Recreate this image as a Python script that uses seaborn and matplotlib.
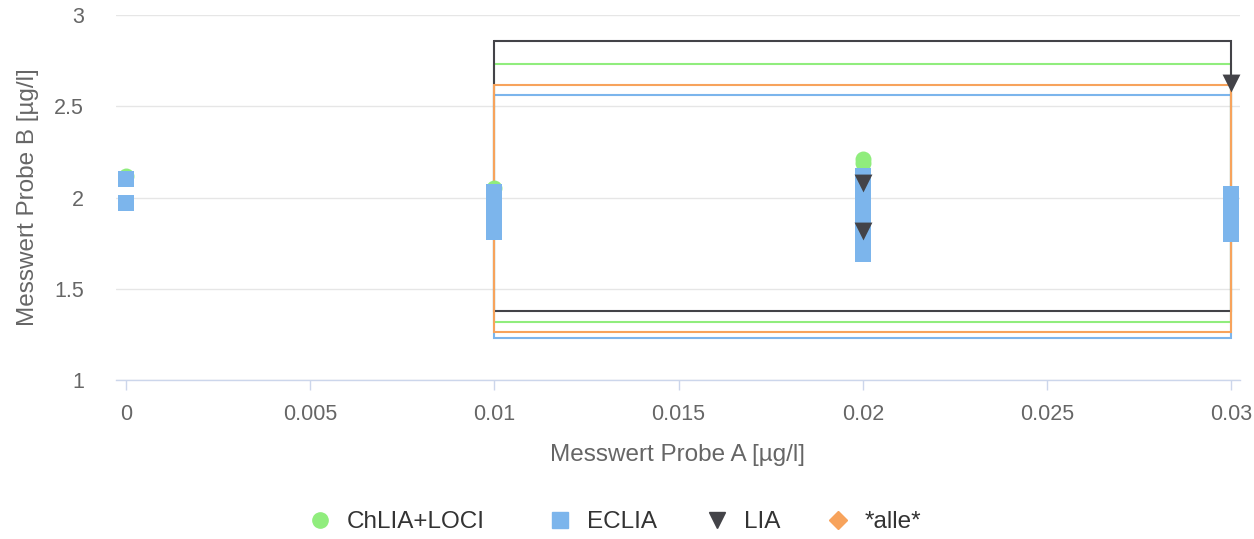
import matplotlib
matplotlib.use("Agg")
import matplotlib.pyplot as plt
import seaborn as sns
import pandas as pd
from matplotlib.lines import Line2D

sns.set_theme(style="white")
plt.rcParams['font.family'] = ['Liberation Sans', 'DejaVu Sans']

# ---- data ----
series_names = ["ChLIA+LOCI", "ECLIA", "LIA", "*alle*"]
colors = ["#90ed7d", "#7cb5ec", "#434348", "#f7a35c"]
markers = ["o", "s", "v", "D"]

x_chlia = [0.0, 0.01, 0.02, 0.02]
y_chlia = [2.12, 2.05, 2.21, 2.19]

x_eclia = [0.0, 0.0,
           0.01, 0.01, 0.01, 0.01, 0.01, 0.01,
           0.02, 0.02, 0.02, 0.02, 0.02, 0.02, 0.02, 0.02, 0.02,
           0.03, 0.03, 0.03, 0.03, 0.03]
y_eclia = [2.10, 1.97,
           2.03, 1.99, 1.95, 1.90, 1.86, 1.81,
           2.12, 2.06, 2.00, 1.95, 1.90, 1.85, 1.80, 1.75, 1.69,
           2.02, 1.97, 1.92, 1.86, 1.80]

x_lia = [0.02, 0.02, 0.03]
y_lia = [2.08, 1.815, 2.63]

x_alle = []
y_alle = []

# limit boxes: x range and lower/upper y limits per series
box_x = [0.01, 0.03]
box_lo = {"ChLIA+LOCI": 1.32, "ECLIA": 1.23, "LIA": 1.38, "*alle*": 1.265}
box_hi = {"ChLIA+LOCI": 2.73, "ECLIA": 2.56, "LIA": 2.86, "*alle*": 2.615}

x_ticks = [0, 0.005, 0.01, 0.015, 0.02, 0.025, 0.03]
x_tick_labels = ["0", "0.005", "0.01", "0.015", "0.02", "0.025", "0.03"]
y_ticks = [1, 1.5, 2, 2.5, 3]
y_tick_labels = ["1", "1.5", "2", "2.5", "3"]

# ---- figure ----
W, H = 1254, 539
fig = plt.figure(figsize=(W / 100, H / 100), dpi=100)
ax = fig.add_axes([116/W, 1 - 380/H, (1240-116)/W, (380-15)/H])

pts = {
    "ChLIA+LOCI": (x_chlia, y_chlia),
    "ECLIA": (x_eclia, y_eclia),
    "LIA": (x_lia, y_lia),
    "*alle*": (x_alle, y_alle),
}

# boxes (draw order: green, blue, black, orange)
for name in ["ChLIA+LOCI", "ECLIA", "LIA", "*alle*"]:
    c = colors[series_names.index(name)]
    lo, hi = box_lo[name], box_hi[name]
    xs = [box_x[0], box_x[1], box_x[1], box_x[0], box_x[0]]
    ys = [hi, hi, lo, lo, hi]
    ax.plot(xs, ys, color=c, lw=1.5, zorder=2, solid_joinstyle="miter")

marker_s = [132, 132, 165, 110]
for i, name in enumerate(series_names):
    xs, ys = pts[name]
    if len(xs) == 0:
        continue
    df = pd.DataFrame({"x": xs, "y": ys})
    sns.scatterplot(data=df, x="x", y="y", ax=ax, color=colors[i], marker=markers[i],
                    s=marker_s[i], linewidth=0, zorder=3 + i, legend=False)

ax.set_xlim(-0.00027, 0.03024)
ax.set_ylim(1, 3)
ax.set_xticks(x_ticks)
ax.set_xticklabels(x_tick_labels)
ax.set_yticks(y_ticks)
ax.set_yticklabels(y_tick_labels)

ax.grid(axis="y", color="#e6e6e6", lw=1)
ax.grid(axis="x", visible=False)
for s in ["top", "right", "left"]:
    ax.spines[s].set_visible(False)
ax.spines["bottom"].set_color("#ccd6eb")
ax.spines["bottom"].set_linewidth(1)
ax.spines["bottom"].set_zorder(1)

ax.tick_params(axis="x", which="both", bottom=True, length=7, width=1, color="#ccd6eb",
               labelsize=15.5, labelcolor="#666666", pad=10)
ax.tick_params(axis="y", left=False, labelsize=15.5, labelcolor="#666666", pad=17)

ax.set_xlabel("Messwert Probe A [µg/l]", fontsize=17.5, color="#666666", labelpad=14)
ax.set_ylabel("Messwert Probe B [µg/l]", fontsize=17.5, color="#666666", labelpad=11)

# legend: one entry per legend, placed at the reference's item positions
marker_x = [320, 560, 717, 838]
marker_sizes = [11, 11, 11.5, 9]
fs = 17.5
em_px = fs * 100 / 72
hl = 1.2
for name, c, m, ms, mx in zip(series_names, colors, markers, marker_sizes, marker_x):
    h = Line2D([], [], linestyle="none", marker=m, color=c, markersize=ms)
    anchor_x = (mx - hl * em_px / 2) / W
    leg = fig.legend([h], [name], loc="center left", bbox_to_anchor=(anchor_x, 1 - 522/H),
                     frameon=False, fontsize=fs, labelcolor="#333333",
                     handletextpad=0.5, handlelength=hl, borderpad=0, borderaxespad=0)

fig.savefig("out.png", dpi=100)
